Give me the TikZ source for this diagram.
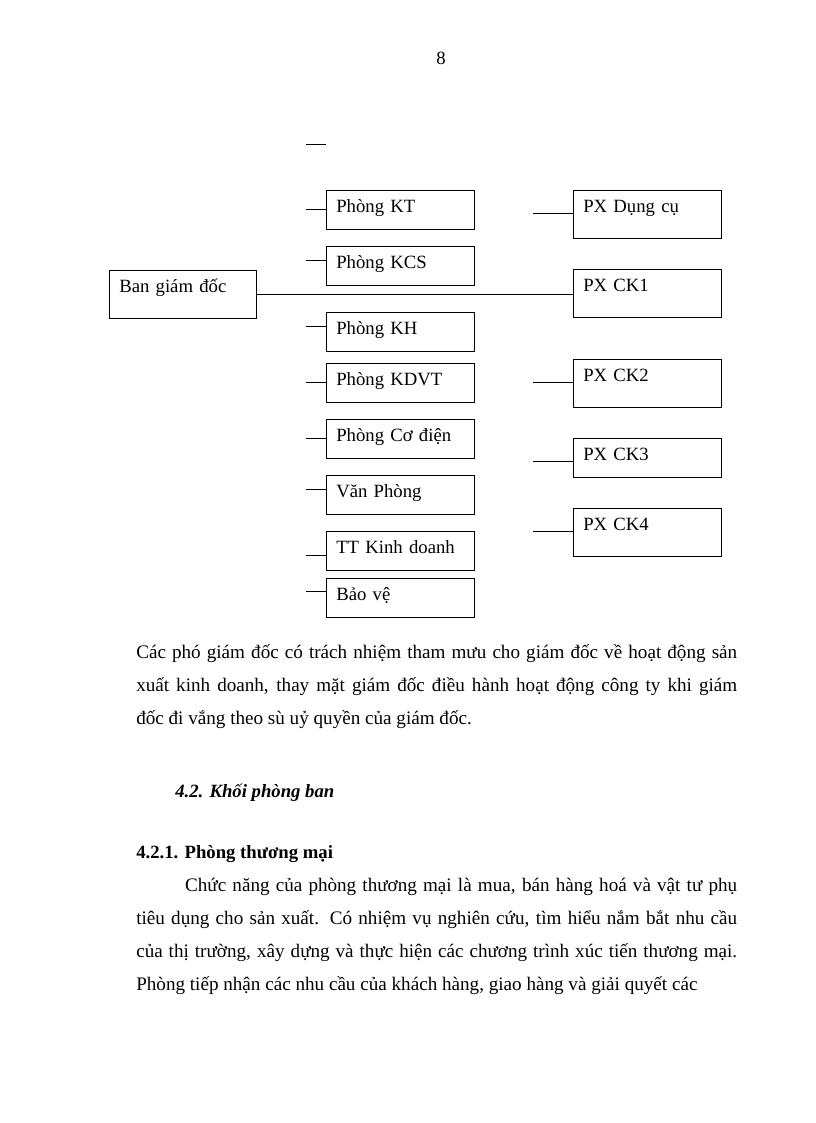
\documentclass[tikz,border=0pt]{standalone}
\usepackage{fontspec}
\setmainfont{Liberation Serif}
\usepackage{tikz}
\usepackage{xcolor}

\begin{document}
\begin{tikzpicture}[x=0.25735mm,y=-0.25735mm,
  every node/.style={font=\fontsize{13.7}{24}\selectfont},
  box/.style={draw,line width=0.5pt,anchor=north west,inner xsep=7.3pt,inner ysep=0pt,
    text width=93.4pt,align=left,text height=16pt,text depth=12.4pt},
  tall/.style={text depth=19pt},
  txt/.style={anchor=base west,inner sep=0pt},
  body/.style={txt,text width=440pt,align=justify,font=\fontsize{14}{24.2}\selectfont},
  conn/.style={line width=0.5pt}]
  \useasboundingbox (0,0) rectangle (816,1123);
  \node[anchor=base,inner sep=0pt] (pageno) at (441,65) {8};
  \coordinate (t0) at (306,144); \coordinate (t1) at (326,144);
  \draw[conn] (t0) -- (t1);
  % left column
  \node[box,tall] (ban) at (109,270) {Ban giám đốc};
  \node[box] (kt) at (326,190) {Phòng KT};
  \node[box] (kcs) at (326,246) {Phòng KCS};
  \node[box] (kh) at (326,312) {Phòng KH};
  \node[box] (kdvt) at (326,363) {Phòng KDVT};
  \node[box] (cd) at (326,419) {Phòng Cơ điện};
  \node[box] (vp) at (326,475) {Văn Phòng};
  \node[box] (ttkd) at (326,531) {TT Kinh doanh};
  \node[box] (bv) at (326,578) {Bảo vệ};
  \foreach \n/\y in {kt/209,kcs/260,kh/326,kdvt/382,cd/438,vp/489,ttkd/555,bv/591}{
    \coordinate (s-\n) at (306,\y);
    \draw[conn] (s-\n) -- (s-\n -| \n.west);
  }
  % right column
  \node[box,tall] (dc) at (573,190) {PX Dụng cụ};
  \node[box,tall] (ck1) at (573,269) {PX CK1};
  \node[box,tall] (ck2) at (573,359) {PX CK2};
  \node[box] (ck3) at (573,438) {PX CK3};
  \node[box,tall] (ck4) at (573,508) {PX CK4};
  \foreach \n/\y in {dc/213,ck2/382,ck3/461,ck4/531}{
    \coordinate (s-\n) at (533,\y);
    \draw[conn] (s-\n) -- (s-\n -| \n.west);
  }
  \draw[conn] (ban.east) -- (ban.east -| ck1.west);
  % text below
  \node[body] (para1) at (136,658)
    {Các phó giám đốc có trách nhiệm tham mưu cho giám đốc về hoạt động sản\linebreak
     xuất kinh doanh, thay mặt giám đốc điều hành hoạt động công ty khi giám\linebreak
     đốc đi vắng theo sù uỷ quyền của giám đốc.};
  \node[txt] (sec42) at (175,797) {\bfseries\itshape 4.2. Khối phòng ban};
  \node[txt] (sec421) at (136,858) {\bfseries 4.2.1. Phòng thương mại};
  \node[body] (para2) at (136,891)
    {\hspace*{35.8pt}Chức năng của phòng thương mại là mua, bán hàng hoá và vật tư phụ\linebreak
     tiêu dụng cho sản xuất. Có nhiệm vụ nghiên cứu, tìm hiểu nắm bắt nhu cầu\linebreak
     của thị trường, xây dựng và thực hiện các chương trình xúc tiến thương mại.\linebreak
     Phòng tiếp nhận các nhu cầu của khách hàng, giao hàng và giải quyết các};
\end{tikzpicture}
\end{document}
